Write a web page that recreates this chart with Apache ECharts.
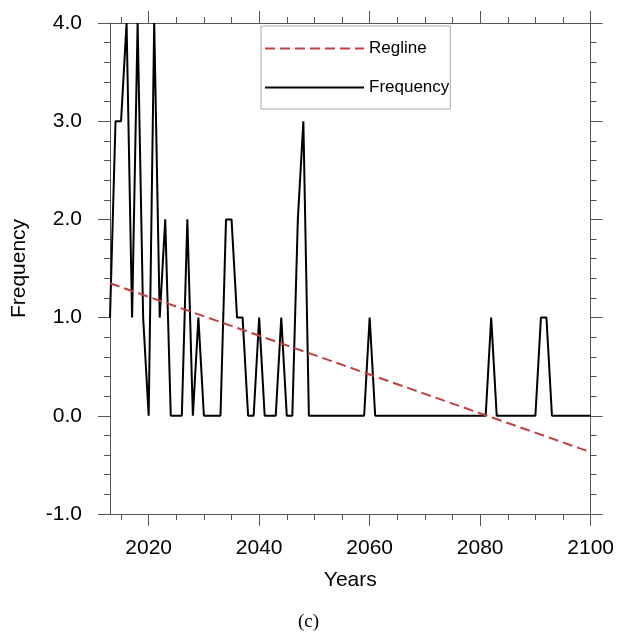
<!DOCTYPE html>
<html><head><meta charset="utf-8">
<script src="https://cdn.jsdelivr.net/npm/echarts@6/dist/echarts.min.js"></script>
<style>html,body{margin:0;padding:0;background:#fff}#c{width:617px;height:632px}</style>
</head><body><div id="c"></div>
<script>
const years = [
  2013,2014,2015,2016,2017,2018,2019,2020,2021,2022,
  2023,2024,2025,2026,2027,2028,2029,2030,2031,2032,
  2033,2034,2035,2036,2037,2038,2039,2040,2041,2042,
  2043,2044,2045,2046,2047,2048,2049,2050,2051,2052,
  2053,2054,2055,2056,2057,2058,2059,2060,2061,2062,
  2063,2064,2065,2066,2067,2068,2069,2070,2071,2072,
  2073,2074,2075,2076,2077,2078,2079,2080,2081,2082,
  2083,2084,2085,2086,2087,2088,2089,2090,2091,2092,
  2093,2094,2095,2096,2097,2098,2099,2100
];
const frequency = [
  1,3,3,4,1,4,1,0,4,1,
  2,0,0,0,2,0,1,0,0,0,
  0,2,2,1,1,0,0,1,0,0,
  0,1,0,0,2,3,0,0,0,0,
  0,0,0,0,0,0,0,1,0,0,
  0,0,0,0,0,0,0,0,0,0,
  0,0,0,0,0,0,0,0,0,1,
  0,0,0,0,0,0,0,0,1,1,
  0,0,0,0,0,0,0,0
];
const reglineYears = [2013, 2100];
const reglineValues = [1.35, -0.37];
const xMajorTicks = [2020, 2040, 2060, 2080, 2100];
const xMinorTicks = [2015,2020,2025,2030,2035,2040,2045,2050,2055,2060,2065,2070,2075,2080,2085,2090,2095,2100];
const seriesNames = ['Regline', 'Frequency'];
const xName = 'Years';
const yName = 'Frequency';
const caption = '(c)';

const FONT = 'Liberation Sans, Arial, Helvetica, sans-serif';
const AX = '#555';
const RED = '#c23f3f';
const XMIN = 2013, XMAX = 2100, YMIN = -1, YMAX = 4;

function xAxisDef(pos, ticks, len, showLine, showLabel) {
  return {
    type: 'value', position: pos, min: XMIN, max: XMAX,
    axisLine: {show: showLine, onZero: false, lineStyle: {color: AX, width: 1}},
    axisTick: {show: true, customValues: ticks, length: len, lineStyle: {color: AX, width: 1}},
    axisLabel: showLabel ? {show: true, customValues: xMajorTicks, fontSize: 21, fontFamily: FONT, color: '#000', margin: 24, formatter: v => String(v)} : {show: false},
    splitLine: {show: false},
    name: showLabel ? xName : '', nameLocation: 'middle', nameGap: 56,
    nameTextStyle: {fontSize: 21, fontFamily: FONT, color: '#000'}
  };
}
function yAxisDef(pos, showLabel) {
  return {
    type: 'value', position: pos, min: YMIN, max: YMAX, interval: 1,
    axisLine: {show: true, onZero: false, lineStyle: {color: AX, width: 1}},
    axisTick: {show: true, length: 12, lineStyle: {color: AX, width: 1}},
    minorTick: {show: true, splitNumber: 5, length: 6, lineStyle: {color: AX, width: 1}},
    axisLabel: showLabel ? {show: true, fontSize: 21, fontFamily: FONT, color: '#000', margin: 28, formatter: v => v.toFixed(1)} : {show: false},
    splitLine: {show: false}, minorSplitLine: {show: false},
    name: showLabel ? yName : '', nameLocation: 'middle', nameGap: 80,
    nameTextStyle: {fontSize: 21, fontFamily: FONT, color: '#000'}
  };
}

const chart = echarts.init(document.getElementById('c'), null, {renderer: 'canvas'});
chart.setOption({
  animation: false,
  backgroundColor: '#fff',
  title: {
    text: caption, left: 'center', top: 608,
    textStyle: {fontSize: 19, fontFamily: 'Liberation Serif, Times New Roman, serif', fontWeight: 'normal', color: '#000'}
  },
  grid: {left: 110, right: 26, top: 23, bottom: 118, containLabel: false},
  legend: {
    left: 261, top: 26, orient: 'vertical',
    itemWidth: 99, itemHeight: 14, itemGap: 22,
    padding: [14, 1, 13, 3],
    backgroundColor: '#fff', borderColor: '#aaa', borderWidth: 1,
    itemStyle: {opacity: 0},
    textStyle: {fontSize: 17, fontFamily: FONT, color: '#000'},
    data: seriesNames
  },
  xAxis: [
    xAxisDef('bottom', xMajorTicks, 12, true, true),
    xAxisDef('bottom', xMinorTicks, 6, false, false),
    xAxisDef('top', xMajorTicks, 12, true, false),
    xAxisDef('top', xMinorTicks, 6, false, false)
  ],
  yAxis: [yAxisDef('left', true), yAxisDef('right', false)],
  series: [
    {
      name: seriesNames[0], type: 'line', symbol: 'none', z: 3,
      data: reglineYears.map((y, i) => [y, reglineValues[i]]),
      lineStyle: {color: RED, width: 2, type: [10, 5]},
      itemStyle: {color: RED}
    },
    {
      name: seriesNames[1], type: 'line', symbol: 'none', z: 2,
      data: years.map((y, i) => [y, frequency[i]]),
      lineStyle: {color: '#000', width: 2},
      itemStyle: {color: '#000'}
    }
  ]
});
</script></body></html>
